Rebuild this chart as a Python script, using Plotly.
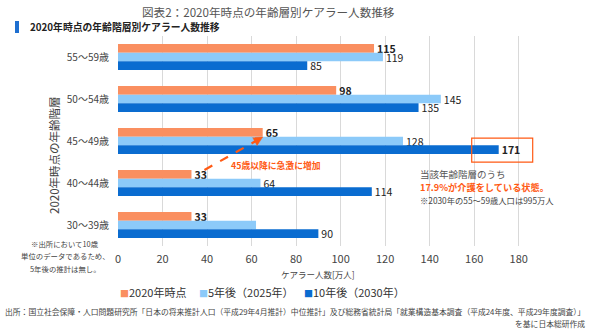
import plotly.graph_objects as go

# ---- data ----
categories = ["55～59歳", "50～54歳", "45～49歳", "40～44歳", "30～39歳"]
series_names = ["2020年時点", "5年後（2025年）", "10年後（2030年）"]
v2020 = [115, 98, 65, 33, 33]
v2025 = [119, 145, 128, 64, 62]
v2030 = [85, 135, 171, 114, 90]
label_2025_show = [True, True, True, True, False]
bold_2030 = [False, False, True, False, False]
x_ticks = [0, 20, 40, 60, 80, 100, 120, 140, 160, 180]
x_max = 190

colors = ["#FA8F60", "#8CCAF9", "#0A6CD0"]
ACCENT = "#FF5A14"
FONT = "Noto Sans CJK JP"

# plot area in pixels
W, H = 590, 329
L, R, T, B = 118, 541, 36, 246
BARGAP = 0.38


def px(x):
    return (x - L) / (R - L)


def py(y):
    return (B - y) / (B - T)


def xpix(v):
    return L + v * (R - L) / x_max


def bar_ypix(cat_idx, series_idx):
    band = (B - T) / len(categories)
    bar_h = band * (1 - BARGAP) / 3
    centre = T + band * (cat_idx + 0.5)
    return centre + (series_idx - 1) * bar_h, bar_h


fig = go.Figure()

t2020 = [f"<b>{v}</b>" for v in v2020]
t2025 = [str(v) if s else "" for v, s in zip(v2025, label_2025_show)]
t2030 = [f"<b>{v}</b>" if b else str(v) for v, b in zip(v2030, bold_2030)]

for name, vals, txt, col in zip(series_names, [v2020, v2025, v2030], [t2020, t2025, t2030], colors):
    fig.add_trace(go.Bar(
        y=categories, x=vals, name=name, orientation="h",
        marker=dict(color=col, line=dict(width=0)),
        text=txt, textposition="outside", cliponaxis=False,
        textfont=dict(family=FONT, size=10.5, color="#222"),
        constraintext="none", showlegend=False,
    ))

fig.update_layout(
    width=W, height=H,
    margin=dict(l=L, r=W - R, t=T, b=H - B, pad=0),
    paper_bgcolor="white", plot_bgcolor="white",
    barmode="group", bargap=BARGAP, bargroupgap=0,
    font=dict(family=FONT, color="#333"),
    xaxis=dict(range=[0, x_max], tickvals=x_ticks, showgrid=True, gridcolor="#D9D9D9",
               gridwidth=1, zeroline=False, showline=False, ticks="",
               tickfont=dict(size=11, color="#444"), ticklabelstandoff=5),
    yaxis=dict(autorange="reversed", showgrid=False, zeroline=False, showline=False,
               ticks="", tickfont=dict(size=10, color="#444"), ticklabelstandoff=8),
)

ann = []
# title
ann.append(dict(x=px(268), y=py(12), text="図表2：2020年時点の年齢層別ケアラー人数推移",
                font=dict(size=11.6, color="#555"), xanchor="center", yanchor="middle"))
# subtitle
ann.append(dict(x=px(28), y=py(27), text="<b>2020年時点の年齢階層別ケアラー人数推移</b>",
                font=dict(size=9.8, color="#222"), xanchor="left", yanchor="middle"))
# y title
ann.append(dict(x=px(54), y=py(155), text="2020年時点の年齢階層", textangle=-90,
                font=dict(size=11.5, color="#444"), xanchor="center", yanchor="middle"))
# x title
ann.append(dict(x=px(318), y=py(274), text="ケアラー人数[万人]",
                font=dict(size=8.5, color="#444"), xanchor="center", yanchor="middle"))
# left note (one line each to match spacing)
for i, line in enumerate(["※出所において10歳", "単位のデータであるため、", "5年後の推計は無し。"]):
    ann.append(dict(x=px(65), y=py(243 + 12.8 * i), text=line,
                    font=dict(size=7.4, color="#444"), xanchor="center", yanchor="middle"))
# right notes
ann.append(dict(x=px(418), y=py(174), text="当該年齢階層のうち",
                font=dict(size=9.5, color="#555"), xanchor="left", yanchor="middle"))
ann.append(dict(x=px(418), y=py(187), text="<b>17.9%が介護をしている状態。</b>",
                font=dict(size=9.2, color=ACCENT), xanchor="left", yanchor="middle"))
ann.append(dict(x=px(418), y=py(200), text="※2030年の55～59歳人口は995万人",
                font=dict(size=8.3, color="#444"), xanchor="left", yanchor="middle"))
# arrow label
ann.append(dict(x=px(229), y=py(165), text="<b>45歳以降に急激に増加</b>",
                font=dict(size=8.8, color=ACCENT), xanchor="left", yanchor="middle"))
# legend
leg_x = [118, 197, 302]
for name, col, lx in zip(series_names, colors, leg_x):
    ann.append(dict(x=px(lx), y=py(292),
                    text=f"<span style='color:{col};font-size:9px'>■</span>{name}",
                    font=dict(size=11, color="#333"), xanchor="left", yanchor="middle"))
# footer
ann.append(dict(x=px(3), y=py(311),
                text="出所：国立社会保障・人口問題研究所「日本の将来推計人口（平成29年4月推計）中位推計」及び総務省統計局「就業構造基本調査（平成24年度、平成29年度調査）」",
                font=dict(size=7.8, color="#444"), xanchor="left", yanchor="middle"))
ann.append(dict(x=px(587), y=py(323), text="を基に日本総研作成",
                font=dict(size=7.8, color="#444"), xanchor="right", yanchor="middle"))

for a in ann:
    a.update(xref="paper", yref="paper", showarrow=False)
    fig.add_annotation(**a)

# dashed arrow from the 40~44 2020 bar to the 45~49 2020 bar (pixel positions derived from data)
yc_s, bh = bar_ypix(3, 0)
yc_e, _ = bar_ypix(2, 0)
x0p, y0p = xpix(v2020[3]) + 13, yc_s - bh * 0.5
x1p, y1p = xpix(v2020[2]), yc_e + bh * 0.55
dx, dy = x1p - x0p, y1p - y0p
n = (dx ** 2 + dy ** 2) ** 0.5
ux, uy = dx / n, dy / n
head_len, head_half = 9.0, 4.5
bx, by = x1p - ux * head_len, y1p - uy * head_len
fig.add_shape(type="line", xref="paper", yref="paper",
              x0=px(x0p), y0=py(y0p), x1=px(bx + ux * 1), y1=py(by + uy * 1),
              line=dict(color=ACCENT, width=2.2, dash="dash"))
pts = [(x1p, y1p), (bx - uy * head_half, by + ux * head_half), (bx + uy * head_half, by - ux * head_half)]
path = "M " + " L ".join(f"{px(a):.5f},{py(b):.5f}" for a, b in pts) + " Z"
fig.add_shape(type="path", xref="paper", yref="paper", path=path,
              fillcolor=ACCENT, line=dict(color=ACCENT, width=0.5))

# red box around the 171 label
y171, _ = bar_ypix(2, 2)
fig.add_shape(type="rect", xref="paper", yref="paper",
              x0=px(xpix(v2030[2]) - 27), x1=px(xpix(v2030[2]) + 34),
              y0=py(y171 + 12.5), y1=py(y171 - 11.5),
              line=dict(color=ACCENT, width=1.2), fillcolor="rgba(0,0,0,0)")

# blue marker of subtitle
fig.add_shape(type="rect", xref="paper", yref="paper",
              x0=px(15), x1=px(19), y0=py(33), y1=py(21),
              line=dict(width=0), fillcolor="#1E6FD0")

fig.write_html("out.html")
